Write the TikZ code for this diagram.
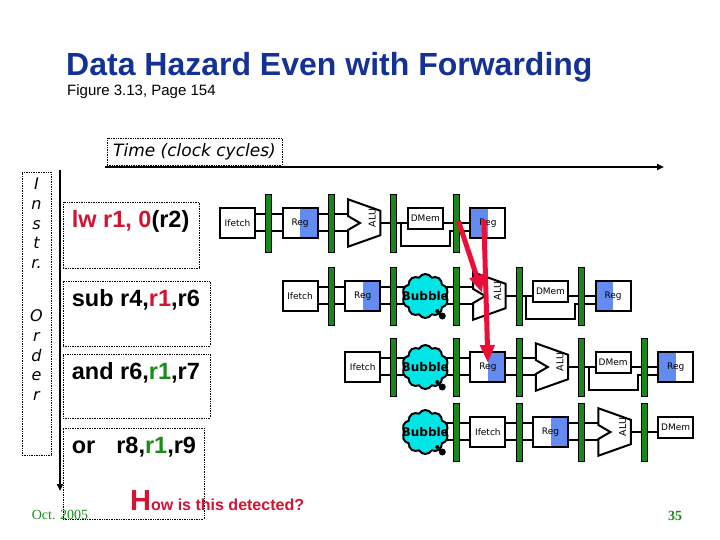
\documentclass[tikz,border=0pt]{standalone}
\usepackage{fontspec}
\setmainfont{Liberation Sans}
\newfontfamily\comicf{DejaVu Sans}[ItalicFont={DejaVu Sans Oblique},BoldFont={DejaVu Sans Bold}]
\newfontfamily\serff{Liberation Serif}
\usepackage{tikz}
\usetikzlibrary{shapes.symbols,arrows.meta,backgrounds,calc}
\definecolor{titleblue}{RGB}{20,50,150}
\definecolor{hazred}{RGB}{210,20,50}
\definecolor{fwdred}{RGB}{235,15,55}
\definecolor{fwdgreen}{RGB}{25,140,25}
\definecolor{bargreen}{RGB}{25,135,25}
\definecolor{regblue}{RGB}{100,140,240}
\definecolor{bubcyan}{RGB}{0,230,230}

\begin{document}
\begin{tikzpicture}[x=1pt, y=-1pt,
    stg/.style={draw, line width=2pt, fill=white, minimum width=35pt, minimum height=30pt, inner sep=0pt, font=\comicf\fontsize{9}{11}\selectfont},
    rdst/.style={stg, path picture={\fill[regblue] (path picture bounding box.north) rectangle (path picture bounding box.south east);}},
    wbst/.style={stg, path picture={\fill[regblue] (path picture bounding box.north west) rectangle (path picture bounding box.south);}},
    memst/.style={stg, minimum height=21pt},
    latch/.style={draw, line width=0.8pt, fill=bargreen, minimum width=6pt, minimum height=58pt, inner sep=0pt},
    alubox/.style={minimum width=32pt, minimum height=47pt, inner sep=0pt},
    alutxt/.style={rotate=90, inner sep=0pt, font=\comicf\fontsize{9.5}{11}\selectfont},
    bub/.style={cloud, cloud puffs=10, cloud puff arc=120, draw, line width=2pt, fill=bubcyan, minimum width=46pt, minimum height=44pt, inner sep=0pt},
    bubtxt/.style={inner sep=0pt, font=\comicf\bfseries\fontsize{12}{14}\selectfont},
    wire/.style={line width=2pt},
    fwd/.style={draw=fwdred, line width=5pt, -{Triangle[length=18pt,width=14pt]}},
    ibox/.style={draw, densely dotted, line width=0.7pt, inner sep=0pt},
    itxt/.style={anchor=west, inner sep=0pt, font=\bfseries\fontsize{23.5}{25}\selectfont},
    axis/.style={line width=2pt, -{Triangle[length=7pt,width=6pt]}}
]
    \useasboundingbox (0,0) rectangle (720,540);

    % Heading
    \node[anchor=west, inner sep=0pt, text=titleblue, font=\bfseries\fontsize{32}{36}\selectfont] (title) at (66,67) {Data Hazard Even with Forwarding};
    \node[anchor=west, inner sep=0pt, font=\fontsize{15}{17}\selectfont] (figref) at (67,92) {Figure 3.13, Page 154};

    % Axes
    \node[ibox, minimum width=175pt, minimum height=27pt, font=\comicf\itshape\fontsize{17}{20}\selectfont] (timebox) at (194.5,151.5) {Time (clock cycles)};
    \coordinate (tstart) at (105,167);
    \coordinate (tend) at (664,167);
    \draw[axis] (tstart) -- (tend);
    \node[ibox, minimum width=29pt, minimum height=283pt] (ordbox) at (36.5,313.5) {};
    \node[anchor=north, align=center, inner sep=0pt, font=\comicf\itshape\fontsize{16}{19.8}\selectfont] (ordtxt) at ($(ordbox.north)+(0,6)$) {I\\n\\s\\t\\r.\\[33pt]O\\r\\d\\e\\r};
    \coordinate (ostart) at (60,170);
    \coordinate (oend) at (60,491);
    \draw[axis] (ostart) -- (oend);

    % Instructions
    \node[ibox, minimum width=136pt, minimum height=66pt] (lwbox) at (131,235) {};
    \node[ibox, minimum width=147pt, minimum height=65pt] (subbox) at (136.5,313.5) {};
    \node[ibox, minimum width=147pt, minimum height=64pt] (andbox) at (136.5,386) {};
    \node[ibox, minimum width=141pt, minimum height=91pt] (orbox) at (133.5,473.5) {};
    \node[itxt] (lwtxt) at ($(lwbox.north west)+(9,20)$) {\textcolor{hazred}{lw r1, 0}(r2)};
    \node[itxt] (subtxt) at ($(subbox.north west)+(9,19)$) {sub r4,\textcolor{hazred}{r1},r6};
    \node[itxt] (andtxt) at ($(andbox.north west)+(9,19)$) {and r6,\textcolor{fwdgreen}{r1},r7};
    \node[itxt] (ortxt) at ($(orbox.north west)+(9,19)$) {or\hspace{21pt}r8,\textcolor{fwdgreen}{r1},r9};

    % Pipeline: lw
    \node[stg] (aif) at (237.5,223) {Ifetch};
    \node[latch] (al1) at (268.6,223) {};
    \node[rdst] (ard) at (300.1,223) {Reg};
    \node[latch] (al2) at (331.2,223) {};
    \node[alubox] (aalu) at (364.2,223) {};
    \node[latch] (al3) at (393.8,223) {};
    \node[memst] (amem) at (425.3,218.5) {DMem};
    \node[latch] (al4) at (456.4,223) {};
    \node[wbst] (awb) at (487.9,223) {Reg};

    % Pipeline: sub
    \node[stg] (bif) at (300.1,296) {Ifetch};
    \node[latch] (bl1) at (331.2,296) {};
    \node[rdst] (brd) at (362.7,296) {Reg};
    \node[latch] (bl2) at (393.8,296) {};
    \node[bub] (bbub) at (425.3,296) {};
    \node[latch] (bl3) at (456.4,296) {};
    \node[alubox] (balu) at (489.4,296) {};
    \node[latch] (bl4) at (519,296) {};
    \node[memst] (bmem) at (550.5,291.5) {DMem};
    \node[latch] (bl5) at (581.6,296) {};
    \node[wbst] (bwb) at (613.1,296) {Reg};

    % Pipeline: and
    \node[stg] (cif) at (362.7,367) {Ifetch};
    \node[latch] (cl1) at (393.8,367) {};
    \node[bub] (cbub) at (425.3,367) {};
    \node[latch] (cl2) at (456.4,367) {};
    \node[rdst] (crd) at (487.9,367) {Reg};
    \node[latch] (cl3) at (519,367) {};
    \node[alubox] (calu) at (552,367) {};
    \node[latch] (cl4) at (581.6,367) {};
    \node[memst] (cmem) at (613.1,362.5) {DMem};
    \node[latch] (cl5) at (644.2,367) {};
    \node[wbst] (cwb) at (675.7,367) {Reg};

    % Pipeline: or
    \node[bub] (dbub) at (425.3,432) {};
    \node[latch] (dl1) at (456.4,432) {};
    \node[stg] (dif) at (487.9,432) {Ifetch};
    \node[latch] (dl2) at (519,432) {};
    \node[rdst] (drd) at (550.5,432) {Reg};
    \node[latch] (dl3) at (581.6,432) {};
    \node[alubox] (dalu) at (614.6,432) {};
    \node[latch] (dl4) at (644.2,432) {};
    \node[memst] (dmem) at (675.7,427.5) {DMem};

    \foreach \bb in {bbub,cbub,dbub} {
        \node[bubtxt] (\bb txt) at (\bb.center) {Bubble};
        \fill (\bb.center) ++(17,20) circle (3.5);
        \fill (\bb.center) ++(12,15) circle (2);
    }
    \foreach \al in {aalu,balu,calu,dalu}
        \node[alutxt] (\al txt) at ($(\al.center)+(8,-5)$) {ALU};

    % Wires and ALUs behind everything
    \begin{scope}[on background layer]
        \foreach \p/\q in {aif.east/ard.west, ard.east/aalu.west, bif.east/brd.west, brd.east/balu.west,
                           cif.east/crd.west, crd.east/calu.west, dbub.center/dif.west, dif.east/drd.west, drd.east/dalu.west} {
            \draw[wire] ($(\p)+(0,-9)$) -- ($(\q)+(0,-9)$);
            \draw[wire] ($(\p)+(0,8)$) -- ($(\q)+(0,8)$);
        }
        \foreach \al/\m in {aalu/amem, balu/bmem, calu/cmem, dalu/dmem}
            \draw[wire] (\al.east) -- (\al.east -| \m.west);
        \foreach \al/\m/\w in {aalu/amem/awb, balu/bmem/bwb, calu/cmem/cwb} {
            \draw[wire] (\m.east |- \w.west) -- (\w.west);
            \draw[wire] ($(\al.east -| \m.west)+(-6,0)$) -- ++(0,23) -| ($(\m.east)+(6,12.5)$) -- ($(\w.west)+(0,8)$);
        }
        \foreach \al in {aalu,balu,calu,dalu}
            \draw[wire, fill=white] (\al.north west) -- ($(\al.north east)+(0,11.5)$) -- ($(\al.south east)+(0,-11.5)$)
                -- (\al.south west) -- ($(\al.west)+(0,7)$) -- ($(\al.west)+(12,0)$) -- ($(\al.west)+(0,-7)$) -- cycle;
    \end{scope}

    % Forwarding
    \draw[fwd] ($(al4.center)+(2,-2)$) -- ($(balu.west)+(9,-3)$);
    \draw[fwd] ($(awb.center)+(-4,-3)$) -- ($(crd.center)+(0,-4)$);

    % Footer
    \node[anchor=base west, inner sep=0pt, text=hazred, font=\bfseries\fontsize{16}{18}\selectfont] (howq) at (130,510) {{\fontsize{29}{30}\selectfont H}ow is this detected?};
    \node[inner sep=0pt, text=fwdgreen, font=\serff\fontsize{14}{16}\selectfont] (octd) at (60,515) {Oct. 2005};
    \node[inner sep=0pt, text=fwdgreen, font=\serff\bfseries\fontsize{14}{16}\selectfont] (pgno) at (675,516) {35};
\end{tikzpicture}
\end{document}
